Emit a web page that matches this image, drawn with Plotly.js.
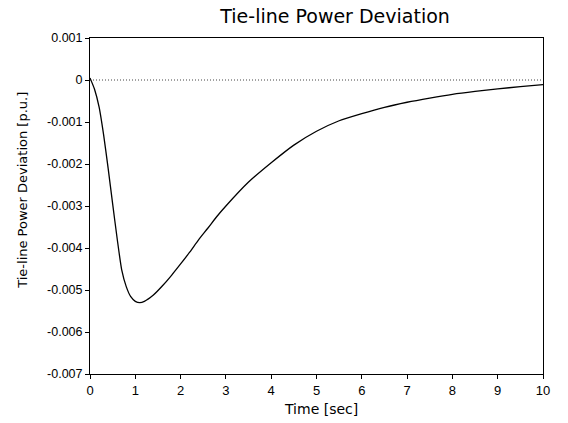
<!DOCTYPE html>
<html>
<head>
<meta charset="utf-8">
<script src="https://cdn.plot.ly/plotly-3.0.1.min.js"></script>
<style>html,body{margin:0;padding:0;background:#fff;}#chart{width:568px;height:423px;}</style>
</head>
<body>
<div id="chart"></div>
<script>
const timeSec = [0, 0.1, 0.2, 0.3, 0.4, 0.5, 0.6, 0.7, 0.8, 0.9, 1.0, 1.1, 1.2, 1.4, 1.6, 1.8, 2.0, 2.2, 2.4, 2.6, 2.8, 3.0, 3.5, 4.0, 4.5, 5.0, 5.5, 6.0, 6.5, 7.0, 7.5, 8.0, 8.5, 9.0, 9.5, 10];
const tiePower = [0.00005, -0.00022, -0.00064, -0.0013, -0.0021, -0.00295, -0.00378, -0.00452, -0.00492, -0.00516, -0.00527, -0.0053, -0.00527, -0.00512, -0.0049, -0.00465, -0.00438, -0.0041, -0.0038, -0.00353, -0.00325, -0.003, -0.00243, -0.00197, -0.00155, -0.00122, -0.00097, -0.0008, -0.00065, -0.00053, -0.00043, -0.00034, -0.00027, -0.00021, -0.00016, -0.00011];
const refTime = [0, 10];
const refZero = [0, 0];
const xTicks = [0,1,2,3,4,5,6,7,8,9,10];
const yTicks = [0.001, 0, -0.001, -0.002, -0.003, -0.004, -0.005, -0.006, -0.007];
const yTickText = ['0.001','0','-0.001','-0.002','-0.003','-0.004','-0.005','-0.006','-0.007'];
const chartTitle = 'Tie-line Power Deviation';
const xTitle = 'Time [sec]';
const yTitle = 'Tie-line Power Deviation [p.u.]';

const tickFam = 'Liberation Sans, Arial, sans-serif';
const titleFam = 'DejaVu Sans, sans-serif';
const data = [
  {x: refTime, y: refZero, mode: 'lines', line: {color: '#444', width: 1, dash: '1px,2px'}, hoverinfo: 'skip'},
  {x: timeSec, y: tiePower, mode: 'lines', line: {color: '#000', width: 1.3, shape: 'spline', smoothing: 0.6}}
];
const layout = {
  width: 568, height: 423,
  margin: {l: 90, r: 25, t: 38, b: 49},
  paper_bgcolor: '#fff', plot_bgcolor: '#fff',
  showlegend: false,
  font: {family: tickFam, color: '#000', size: 12},
  title: {text: chartTitle, font: {size: 19, family: titleFam, color: '#000'},
          xref: 'paper', x: 0.541, xanchor: 'center', yref: 'container', y: 0.962, yanchor: 'middle'},
  xaxis: {range: [0, 10], tickvals: xTicks, ticks: 'outside', ticklen: 4, tickcolor: '#000',
          showline: true, linecolor: '#000', linewidth: 1, mirror: true, showgrid: false, zeroline: false,
          tickfont: {size: 13, family: tickFam}},
  yaxis: {range: [-0.007, 0.001], tickvals: yTicks, ticktext: yTickText, ticks: 'outside', ticklen: 4, tickcolor: '#000',
          showline: true, linecolor: '#000', linewidth: 1, mirror: true, showgrid: false, zeroline: false,
          tickfont: {size: 12.5, family: tickFam}},
  annotations: [
    {text: xTitle, xref: 'paper', yref: 'paper', x: 0.51, y: -0.104, xanchor: 'center', yanchor: 'middle',
     showarrow: false, font: {size: 14, family: titleFam, color: '#000'}},
    {text: yTitle, xref: 'paper', yref: 'paper', x: -0.148, y: 0.548, xanchor: 'center', yanchor: 'middle',
     textangle: -90, showarrow: false, font: {size: 13, family: titleFam, color: '#000'}}
  ]
};
Plotly.newPlot('chart', data, layout, {displayModeBar: false, staticPlot: true});
</script>
</body>
</html>
